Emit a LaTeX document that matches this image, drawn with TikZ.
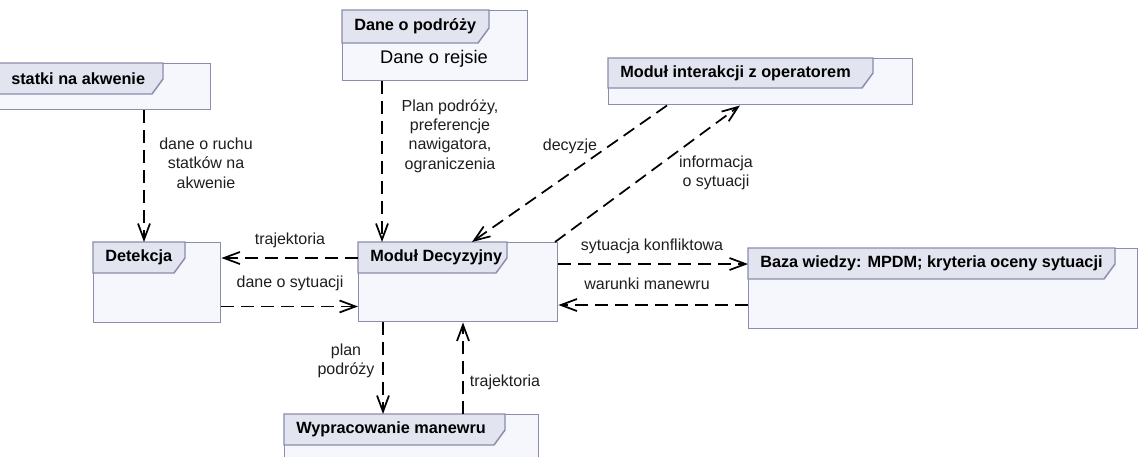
\documentclass[tikz,border=0pt]{standalone}
\usepackage{fontspec}
\setmainfont{Liberation Sans}
\usetikzlibrary{arrows.meta,calc}
\definecolor{boxfill}{HTML}{F6F7FC}
\definecolor{tabfill}{HTML}{E2E5F0}
\definecolor{boxline}{HTML}{8C8CAC}
\definecolor{txt}{HTML}{1E1E1E}
% name, x1, y1, x2, y2, tab right x, tab bottom y, title
\newcommand\umlbox[8]{%
  \node[umlrect, anchor=north west, minimum width={(#4-(#2))*0.75pt}, minimum height={(#5-(#3))*0.75pt}] (#1) at (#2,#3) {};
  \draw[umltab] (#2,#3) -- (#6,#3) -- (#6,#7-15) -- (#6-11,#7) -- (#2,#7) -- cycle;
  \node[umltitle, anchor=west] (#1t) at (#2+12,{(#3+#7)/2}) {#8};
}
\begin{document}
\begin{tikzpicture}[x=0.75pt,y=-0.75pt,
  umlrect/.style={rectangle, draw=boxline, fill=boxfill, line width=1.1pt, inner sep=0pt},
  umltab/.style={draw=boxline, fill=tabfill, line width=1.1pt, line join=miter},
  umltitle/.style={font=\bfseries\fontsize{12.2}{14}\selectfont, text=black, inner sep=0pt},
  lbl/.style={font=\fontsize{12}{14.6}\selectfont, text=txt, align=center, inner sep=0pt},
  conn/.style={draw=black, line width=1.3pt, dash pattern=on 9.75pt off 5.25pt,
    -{Straight Barb[length=12pt,width=9pt]}}]
\useasboundingbox (0,0) rectangle (1140,457);
\clip (0,0) rectangle (1140,457);

\umlbox{statki}{-1}{63}{210}{109}{163}{94}{statki na akwenie}
\umlbox{dane}{342}{10}{527}{80}{489}{43}{Dane o podróży}
\node[font=\fontsize{13.7}{16}\selectfont, inner sep=0pt] (danetxt) at (434,59) {Dane o rejsie};
\umlbox{inter}{608}{58}{912}{104}{873}{88}{Moduł interakcji z operatorem}
\umlbox{det}{93}{242}{220}{322}{185}{273}{Detekcja}
\umlbox{modul}{358}{242}{557}{321}{507}{273}{Moduł Decyzyjny}
\umlbox{baza}{748}{248}{1137}{328}{1115}{279}{Baza wiedzy: MPDM; kryteria oceny sytuacji}
\umlbox{wyp}{284}{414}{538}{470}{505}{445}{Wypracowanie manewru}

% connectors
\draw[conn] ($(statki.south west)+(145,0)$) -- ($(det.north west)+(51,0)$);
\draw[conn] ($(dane.south west)+(40,0)$) -- ($(modul.north west)+(24,0)$);
\draw[conn] ($(inter.south west)+(59,0)$) -- ($(modul.north west)+(114,0)$);
\draw[conn] ($(modul.north west)+(197,0)$) -- ($(inter.south west)+(132,0)$);
\draw[conn] ($(modul.north west)+(0,16)$) -- ($(det.north east)+(0,16)$);
\draw[conn] ($(det.south east)+(0,-17)$) -- ($(modul.south west)+(0,-16)$);
\draw[conn] ($(modul.north east)+(0,22)$) -- ($(baza.north west)+(0,16)$);
\draw[conn] ($(baza.north west)+(0,57)$) -- ($(modul.north east)+(0,63)$);
\draw[conn] ($(modul.south west)+(25,0)$) -- ($(wyp.north west)+(99,0)$);
\draw[conn] ($(wyp.north west)+(179,0)$) -- ($(modul.south west)+(105,0)$);

% labels
\node[lbl] (l1) at (206,163) {dane o ruchu\\statków na\\akwenie};
\node[lbl] (l2) at (450,136) {Plan podróży,\\preferencje\\nawigatora,\\ograniczenia};
\node[lbl] (l3) at (570,146) {decyzje};
\node[lbl] (l4) at (716,173) {informacja\\o sytuacji};
\node[lbl] (l5) at (290,240) {trajektoria};
\node[lbl] (l6) at (290,283) {dane o sytuacji};
\node[lbl] (l7) at (652,246) {sytuacja konfliktowa};
\node[lbl] (l8) at (647,284) {warunki manewru};
\node[lbl] (l9) at (346,361) {plan\\podróży};
\node[lbl] (l10) at (505,382) {trajektoria};
\end{tikzpicture}
\end{document}
